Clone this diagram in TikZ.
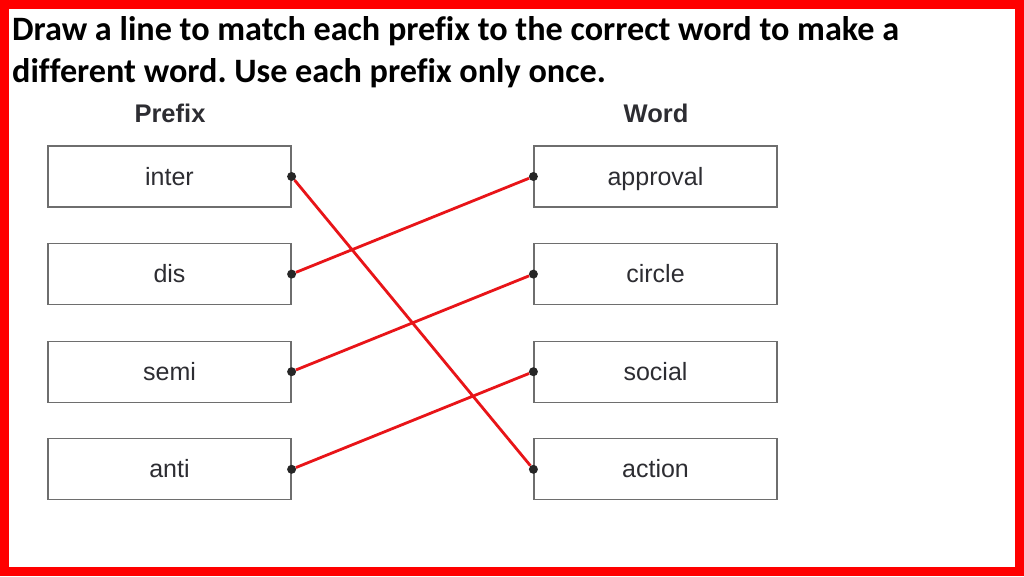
\documentclass[tikz,border=0pt]{standalone}
\usepackage{fontspec}
\setmainfont{Liberation Sans}
\newfontfamily\titlefont[Ligatures=NoCommon]{Carlito}
\usetikzlibrary{positioning}

\definecolor{frame}{RGB}{255,0,0}
\definecolor{linered}{RGB}{232,20,24}
\definecolor{boxgray}{RGB}{110,110,110}
\definecolor{txtgray}{RGB}{45,45,50}

\begin{document}
\frenchspacing
\begin{tikzpicture}[x=1pt,y=-1pt,node distance=97.6pt and 486pt,on grid,
	box/.style={draw=boxgray,line width=1.2pt,minimum width=243pt,minimum height=61pt,
		text height=18pt,text depth=1pt,font=\fontsize{25}{30}\selectfont,text=txtgray},
	head/.style={font=\fontsize{25.5}{30}\selectfont\bfseries,text=txtgray,anchor=base},
	title/.style={font=\titlefont\fontsize{34.2}{42}\selectfont\bfseries,anchor=base west,inner sep=0pt},
	dot/.style={circle,fill=black!85,inner sep=0pt,minimum size=9pt},
	match/.style={draw=linered,line width=2.8pt}]
	\useasboundingbox (0,0) rectangle (1024,576);
	\fill[white] (0,0) rectangle (1024,576);
	\draw[frame,line width=8.6pt] (4.3,4.3) rectangle (1019.7,571.7);

	% question
	\node[title] (title1) at (12,40) {Draw a line to match each prefix to the correct word to make a};
	\node[title] (title2) at (12,82) {different word. Use each prefix only once.};

	% headings
	\node[head] (hp) at (170,122) {Prefix};
	\node[head] (hw) at (656,122) {Word};

	% prefixes
	\node[box] (p1) at (169.5,176.5) {inter};
	\node[box] (p2) [below=of p1] {dis};
	\node[box] (p3) [below=of p2] {semi};
	\node[box] (p4) [below=of p3] {anti};

	% words
	\node[box] (w1) [right=of p1] {approval};
	\node[box] (w2) [right=of p2] {circle};
	\node[box] (w3) [right=of p3] {social};
	\node[box] (w4) [right=of p4] {action};

	% end points
	\foreach \i in {1,...,4}{
		\node[dot] (a\i) at (p\i.east) {};
		\node[dot] (b\i) at (w\i.west) {};
	}

	\path[match] (a1) -- (b4)
				 (a2) -- (b1)
				 (a3) -- (b2)
				 (a4) -- (b3);
\end{tikzpicture}
\end{document}
